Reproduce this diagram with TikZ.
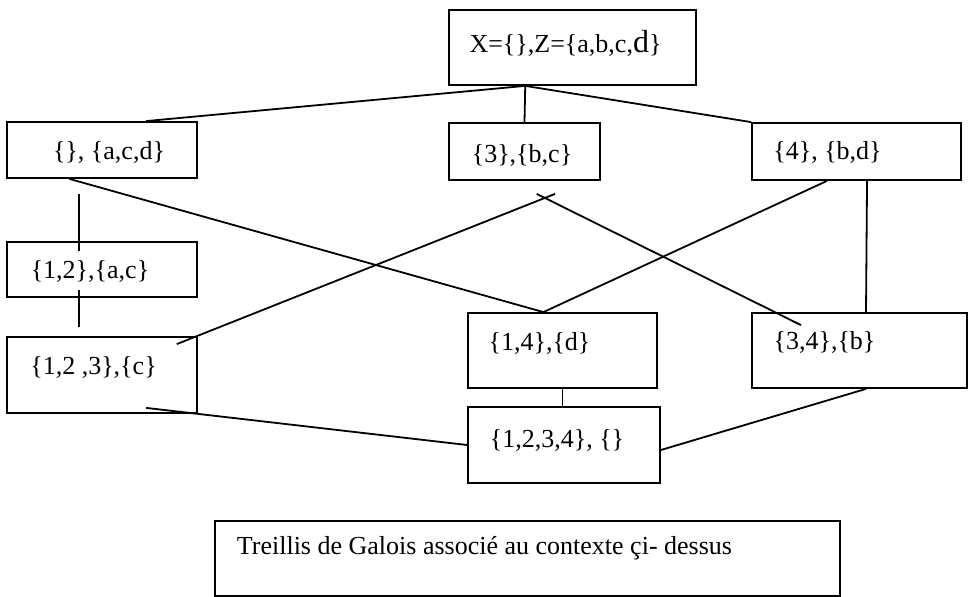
\documentclass[tikz,border=0pt]{standalone}
\usepackage{fontspec}
\setmainfont{Liberation Serif}
\usetikzlibrary{calc}

\tikzset{
  box/.style 2 args={draw, line width=0.9pt, inner sep=0pt,
    minimum width=#1*0.5pt, minimum height=#2*0.5pt},
  txt/.style={inner sep=0pt, font=\fontsize{13}{15}\selectfont}
}

\begin{document}
\begin{tikzpicture}[x=0.5pt, y=-0.5pt, line width=0.9pt]
\useasboundingbox (0,0) rectangle (969,597);

% the boxes of the lattice
\node[box={247}{75}] (top) at (572.5,47.5) {};
\node[txt] (topt) at (565.5,43) {X=\{\},Z=\{a,b,c,{\fontsize{16}{16}\selectfont d}\}};
\node[box={190}{56}] (nAcd) at (102,150) {};
\node[txt] (nAcdt) at (109,152) {\{\}, \{a,c,d\}};
\node[box={151}{57}] (n3bc) at (524.5,151.5) {};
\node[txt] (n3bct) at (522,155) {\{3\},\{b,c\}};
\node[box={209}{57}] (n4bd) at (856.5,151.5) {};
\node[txt] (n4bdt) at (827.5,152) {\{4\}, \{b,d\}};
\node[box={190}{55}] (n12ac) at (102,269.5) {};
\node[txt] (n12act) at (90,271) {\{1,2\},\{a,c\}};
\node[box={190}{76}] (n123c) at (102,375) {};
\node[txt] (n123ct) at (93.5,367) {\{1,2 ,3\},\{c\}};
\node[box={189}{75}] (n14d) at (562.5,350.5) {};
\node[txt] (n14dt) at (539.5,343) {\{1,4\},\{d\}};
\node[box={215}{75}] (n34b) at (859.5,350.5) {};
\node[txt] (n34bt) at (824.5,342) {\{3,4\},\{b\}};
\node[box={192}{76}] (n1234) at (564,445) {};
\node[txt] (n1234t) at (557,440) {\{1,2,3,4\}, \{\}};

% caption
\node[box={625}{75}] (legend) at (527.5,558.5) {};
\node[txt, anchor=west] (legendt) at (236,548) {Treillis de Galois associé au contexte çi- dessus};

% the lines between the boxes
\draw ($(top.south west)!0.31!(top.south east)$) -- ($(nAcd.north west)!0.73!(nAcd.north east)$);
\draw ($(top.south west)!0.31!(top.south east)$) -- ($(n3bc.north west)!0.5!(n3bc.north east)$);
\draw ($(top.south west)!0.31!(top.south east)$) -- (n4bd.north west);
\draw ($(nAcd.south west)!0.38!(nAcd.south east)+(0,15)$) -- ($(n12ac.north west)!0.38!(n12ac.north east)+(0,10)$);
\draw ($(n12ac.south west)!0.38!(n12ac.south east)+(0,-8)$) -- ($(n123c.north west)!0.38!(n123c.north east)+(0,-9)$);
\draw ($(nAcd.south west)!0.33!(nAcd.south east)$) -- ($(n14d.north west)!0.40!(n14d.north east)$);
\draw ($(n3bc.south west)!0.70!(n3bc.south east)+(0,13)$) -- ($(n123c.north west)!0.89!(n123c.north east)+(0,8)$);
\draw ($(n3bc.south west)!0.58!(n3bc.south east)+(0,13)$) -- ($(n34b.north west)!0.23!(n34b.north east)+(0,13)$);
\draw ($(n4bd.south west)!0.36!(n4bd.south east)$) -- ($(n14d.north west)!0.40!(n14d.north east)$);
\draw ($(n4bd.south west)!0.55!(n4bd.south east)$) -- ($(n34b.north west)!0.53!(n34b.north east)$);
\draw (n14d.south) -- (n14d.south |- n1234.north);
\draw ($(n123c.south west)!0.73!(n123c.south east)+(0,-6)$) -- (n1234.west);
\draw ($(n34b.south west)!0.53!(n34b.south east)$) -- ($(n1234.east)+(0,5)$);
\end{tikzpicture}
\end{document}
